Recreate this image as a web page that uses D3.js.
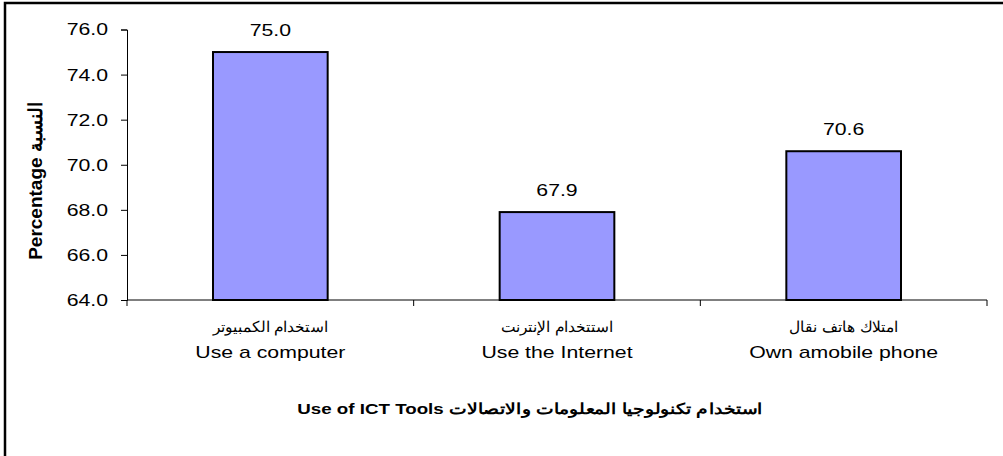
<!DOCTYPE html>
<html>
<head>
<meta charset="utf-8">
<script src="https://cdn.jsdelivr.net/npm/d3@7"></script>
<style>
  html, body { margin: 0; padding: 0; background: #fff; overflow: hidden; }
  svg { display: block; }
  text { font-family: "Liberation Sans", Arial, sans-serif; fill: #000; }
</style>
</head>
<body>
<svg id="chart" width="1003" height="456"></svg>
<script>
const categoriesEn = ["Use a computer", "Use the Internet", "Own amobile phone"];
const categoriesAr = ["استخدام الكمبيوتر", "استتخدام الإنترنت", "امتلاك هاتف نقال"];
const values = [75.0, 67.9, 70.6];
const yTicks = [64, 66, 68, 70, 72, 74, 76];
const yTitle = "Percentage  النسبة";
const xTitle = "Use of ICT Tools  استخدام تكنولوجيا المعلومات والاتصالات";

const SX = 1.25; // horizontal stretch of the original picture's text

const svg = d3.select("#chart");

// outer frame (only top and left edges visible in the picture)
svg.append("rect")
  .attr("x", 5).attr("y", 3)
  .attr("width", 1010).attr("height", 470)
  .attr("fill", "none").attr("stroke", "#000").attr("stroke-width", 2.5);

const x = d3.scaleBand()
  .domain(categoriesEn)
  .range([127, 987])
  .paddingInner(0.6)
  .paddingOuter(0.3);

const y = d3.scaleLinear().domain([64, 76]).range([300, 29.5]);

// Y axis
const yAxis = d3.axisLeft(y)
  .tickValues(yTicks)
  .tickSize(6)
  .tickFormat(d3.format(".1f"));
const gy = svg.append("g").attr("transform", "translate(127,0)").call(yAxis);
gy.select(".domain").attr("stroke", "#000");
gy.selectAll(".tick line").attr("stroke", "#000");
gy.selectAll(".tick text")
  .attr("x", 0)
  .attr("transform", `translate(-19,0) scale(${SX},1)`)
  .attr("font-size", 17)
  .attr("font-family", "Liberation Sans, Arial, sans-serif")
  .attr("fill", "#000");

// bars
svg.append("g").selectAll("rect")
  .data(values)
  .join("rect")
  .attr("x", (d, i) => x(categoriesEn[i]))
  .attr("y", d => y(d))
  .attr("width", x.bandwidth())
  .attr("height", d => y(64) - y(d))
  .attr("fill", "#9999FF")
  .attr("stroke", "#000")
  .attr("stroke-width", 2);

// X axis line and boundary ticks
const step = x.step();
const x0 = 127;
svg.append("line")
  .attr("x1", x0).attr("x2", 987)
  .attr("y1", y(64)).attr("y2", y(64))
  .attr("stroke", "#000").attr("stroke-width", 1);
svg.append("g").selectAll("line")
  .data(d3.range(categoriesEn.length + 1))
  .join("line")
  .attr("x1", i => x0 + i * step).attr("x2", i => x0 + i * step)
  .attr("y1", y(64)).attr("y2", y(64) + 6)
  .attr("stroke", "#000").attr("stroke-width", 1);

const cx = i => x(categoriesEn[i]) + x.bandwidth() / 2;

// value labels
svg.append("g").selectAll("text")
  .data(values)
  .join("text")
  .attr("transform", (d, i) => `translate(${cx(i)},${y(d) - 16}) scale(${SX},1)`)
  .attr("text-anchor", "middle")
  .attr("font-size", 17)
  .text(d => d3.format(".1f")(d));

// category labels
const cat = svg.append("g");
cat.selectAll("text.ar")
  .data(categoriesAr)
  .join("text")
  .attr("class", "ar")
  .attr("transform", (d, i) => `translate(${cx(i)},332) scale(1.03,1)`)
  .attr("text-anchor", "middle")
  .attr("font-size", 15)
  .text(d => d);
cat.selectAll("text.en")
  .data(categoriesEn)
  .join("text")
  .attr("class", "en")
  .attr("transform", (d, i) => `translate(${cx(i)},358) scale(${SX},1)`)
  .attr("text-anchor", "middle")
  .attr("font-size", 17)
  .text(d => d);

// axis titles
svg.append("text")
  .attr("transform", "translate(42,181) rotate(-90)")
  .attr("text-anchor", "middle")
  .attr("font-size", 19)
  .attr("font-weight", "bold")
  .text(yTitle);

svg.append("text")
  .attr("transform", `translate(530,414) scale(${SX},1)`)
  .attr("text-anchor", "middle")
  .attr("font-size", 15)
  .attr("font-weight", "bold")
  .text(xTitle);
</script>
</body>
</html>
